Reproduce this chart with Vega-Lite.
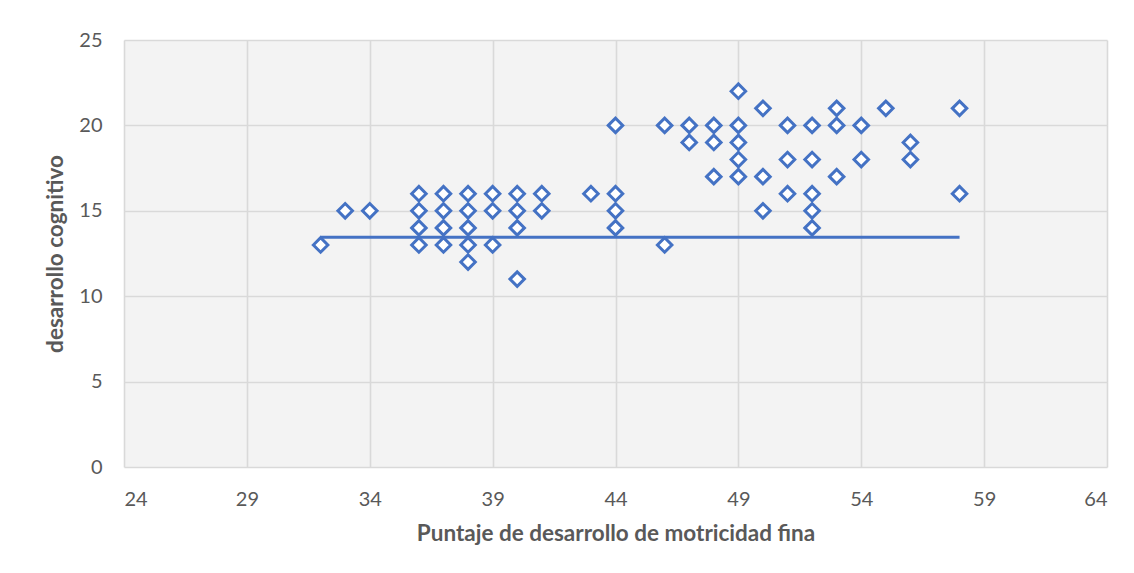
{
  "$schema": "https://vega.github.io/schema/vega-lite/v6.json",
  "width": 983,
  "height": 427,
  "autosize": {"type": "none"},
  "padding": {"left": 124, "top": 40, "right": 27, "bottom": 106},
  "background": "white",
  "config": {
    "view": {"fill": "#f3f3f3", "stroke": null},
    "font": "Lato",
    "axis": {
      "grid": true,
      "gridColor": "#d9d9d9",
      "gridWidth": 1.6,
      "domain": false,
      "ticks": false,
      "labelColor": "#595959",
      "labelFont": "Lato",
      "labelFontSize": 20,
      "titleColor": "#595959",
      "titleFont": "Lato",
      "titleFontSize": 22.5,
      "titleFontWeight": "bold"
    }
  },
  "datasets": {
    "points": [
      {"motricidad": 32, "cognitivo": 13},
      {"motricidad": 33, "cognitivo": 15},
      {"motricidad": 34, "cognitivo": 15},
      {"motricidad": 36, "cognitivo": 16},
      {"motricidad": 36, "cognitivo": 15},
      {"motricidad": 36, "cognitivo": 14},
      {"motricidad": 36, "cognitivo": 13},
      {"motricidad": 37, "cognitivo": 16},
      {"motricidad": 37, "cognitivo": 15},
      {"motricidad": 37, "cognitivo": 14},
      {"motricidad": 37, "cognitivo": 13},
      {"motricidad": 38, "cognitivo": 16},
      {"motricidad": 38, "cognitivo": 15},
      {"motricidad": 38, "cognitivo": 14},
      {"motricidad": 38, "cognitivo": 13},
      {"motricidad": 38, "cognitivo": 12},
      {"motricidad": 39, "cognitivo": 16},
      {"motricidad": 39, "cognitivo": 15},
      {"motricidad": 39, "cognitivo": 13},
      {"motricidad": 40, "cognitivo": 16},
      {"motricidad": 40, "cognitivo": 15},
      {"motricidad": 40, "cognitivo": 14},
      {"motricidad": 40, "cognitivo": 11},
      {"motricidad": 41, "cognitivo": 16},
      {"motricidad": 41, "cognitivo": 15},
      {"motricidad": 43, "cognitivo": 16},
      {"motricidad": 44, "cognitivo": 20},
      {"motricidad": 44, "cognitivo": 16},
      {"motricidad": 44, "cognitivo": 15},
      {"motricidad": 44, "cognitivo": 14},
      {"motricidad": 46, "cognitivo": 20},
      {"motricidad": 46, "cognitivo": 13},
      {"motricidad": 47, "cognitivo": 20},
      {"motricidad": 47, "cognitivo": 19},
      {"motricidad": 48, "cognitivo": 20},
      {"motricidad": 48, "cognitivo": 19},
      {"motricidad": 48, "cognitivo": 17},
      {"motricidad": 49, "cognitivo": 22},
      {"motricidad": 49, "cognitivo": 20},
      {"motricidad": 49, "cognitivo": 19},
      {"motricidad": 49, "cognitivo": 18},
      {"motricidad": 49, "cognitivo": 17},
      {"motricidad": 50, "cognitivo": 21},
      {"motricidad": 50, "cognitivo": 17},
      {"motricidad": 50, "cognitivo": 15},
      {"motricidad": 51, "cognitivo": 20},
      {"motricidad": 51, "cognitivo": 18},
      {"motricidad": 51, "cognitivo": 16},
      {"motricidad": 52, "cognitivo": 20},
      {"motricidad": 52, "cognitivo": 18},
      {"motricidad": 52, "cognitivo": 16},
      {"motricidad": 52, "cognitivo": 15},
      {"motricidad": 52, "cognitivo": 14},
      {"motricidad": 53, "cognitivo": 21},
      {"motricidad": 53, "cognitivo": 20},
      {"motricidad": 53, "cognitivo": 17},
      {"motricidad": 54, "cognitivo": 20},
      {"motricidad": 54, "cognitivo": 18},
      {"motricidad": 55, "cognitivo": 21},
      {"motricidad": 56, "cognitivo": 19},
      {"motricidad": 56, "cognitivo": 18},
      {"motricidad": 58, "cognitivo": 21},
      {"motricidad": 58, "cognitivo": 16}
    ],
    "trend": [
      {"motricidad": 32, "cognitivo": 13.45},
      {"motricidad": 58, "cognitivo": 13.45}
    ]
  },
  "layer": [
    {
      "data": {"name": "points"},
      "mark": {"type": "point", "shape": "diamond", "size": 210, "filled": false, "fill": "white", "fillOpacity": 1, "stroke": "#4472C4", "strokeWidth": 3, "opacity": 1},
      "encoding": {
        "x": {
          "field": "motricidad",
          "type": "quantitative",
          "scale": {"domain": [24, 64], "nice": false, "zero": false},
          "axis": {"values": [24, 29, 34, 39, 44, 49, 54, 59, 64], "title": "Puntaje de desarrollo de motricidad fina", "labelPadding": 22, "titlePadding": 13}
        },
        "y": {
          "field": "cognitivo",
          "type": "quantitative",
          "scale": {"domain": [0, 25], "nice": false},
          "axis": {"values": [0, 5, 10, 15, 20, 25], "title": "desarrollo cognitivo", "labelPadding": 22, "titlePadding": 11}
        }
      }
    },
    {
      "data": {"name": "trend"},
      "mark": {"type": "line", "color": "#4472C4", "strokeWidth": 3},
      "encoding": {
        "x": {"field": "motricidad", "type": "quantitative"},
        "y": {"field": "cognitivo", "type": "quantitative"}
      }
    }
  ]
}
